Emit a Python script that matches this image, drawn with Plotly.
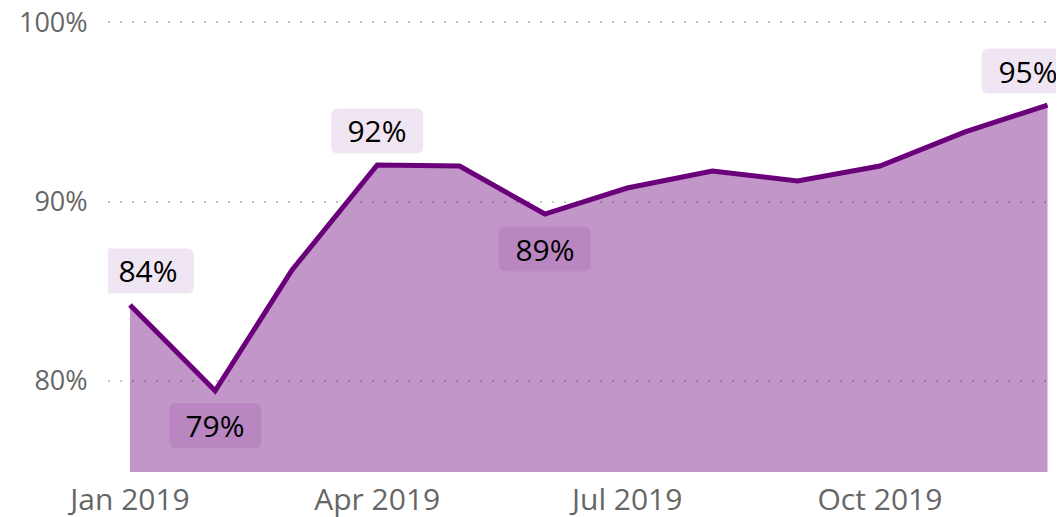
import plotly.graph_objects as go

# ---- data ----
months = ["2019-01-01", "2019-02-01", "2019-03-01", "2019-04-01", "2019-05-01", "2019-06-01",
          "2019-07-01", "2019-08-01", "2019-09-01", "2019-10-01", "2019-11-01", "2019-12-01"]
values = [84.24, 79.45, 86.19, 92.05, 91.99, 89.31, 90.76, 91.71, 91.15, 91.99, 93.89, 95.39]

# which points get a data label, and on which side of the line
label_idx = [0, 1, 3, 5, 11]
label_side = ["above", "below", "above", "below", "above"]
label_xshift = [18, 0, 0, 0, -20]

y_ticks = [80, 90, 100]
y_ticktext = ["80%", "90%", "100%"]
x_range = ["2018-12-24", "2019-12-07"]
y_range = [74.92, 100.69]

LINE = "#6B007B"
FILL = "rgba(107,0,123,0.41)"
LABEL_BG = "rgba(112,0,128,0.10)"
FONT = "Open Sans"

BOX_W, BOX_H, RAD, OFF = 92, 45, 7, 34


def rounded_box(cx, cy, w, h, r):
    x0, x1 = cx - w / 2, cx + w / 2
    y0, y1 = cy - h / 2, cy + h / 2
    return (f"M{x0 + r},{y0} L{x1 - r},{y0} Q{x1},{y0} {x1},{y0 + r} "
            f"L{x1},{y1 - r} Q{x1},{y1} {x1 - r},{y1} L{x0 + r},{y1} "
            f"Q{x0},{y1} {x0},{y1 - r} L{x0},{y0 + r} Q{x0},{y0} {x0 + r},{y0} Z")


fig = go.Figure()
fig.add_trace(go.Scatter(
    x=months, y=values, mode="lines",
    line=dict(color=LINE, width=5),
    fill="tozeroy", fillcolor=FILL,
    hoverinfo="skip", showlegend=False,
))

for i, side, xs in zip(label_idx, label_side, label_xshift):
    ys = OFF if side == "above" else -OFF - 1
    fig.add_shape(
        type="path", xref="x", yref="y",
        xsizemode="pixel", ysizemode="pixel",
        xanchor=months[i], yanchor=values[i],
        path=rounded_box(xs, ys, BOX_W, BOX_H, RAD),
        fillcolor=LABEL_BG, line=dict(width=0), layer="above",
    )
    fig.add_annotation(
        x=months[i], y=values[i], xref="x", yref="y",
        text=f"{round(values[i])}%", showarrow=False,
        font=dict(family=FONT, size=30, color="#000000"),
        borderpad=0, borderwidth=0,
        width=BOX_W, height=BOX_H,
        xshift=xs, yshift=ys,
    )

# the page body has an 8px default margin, so the figure is sized/margined to compensate
fig.update_layout(
    width=1056, height=509,
    margin=dict(l=100, r=0, t=2, b=45, autoexpand=False),
    paper_bgcolor="white", plot_bgcolor="white",
    font=dict(family=FONT, size=30, color="#666666"),
    xaxis=dict(
        type="date", range=x_range, dtick="M3", tick0="2019-01-01",
        tickformat="%b %Y", showgrid=False, zeroline=False, showline=False,
        automargin=False,
        ticks="outside", ticklen=1, tickcolor="rgba(0,0,0,0)",
        tickfont=dict(family=FONT, size=30, color="#666666"),
    ),
    yaxis=dict(
        range=y_range, tickmode="array", tickvals=y_ticks, ticktext=y_ticktext,
        showgrid=True, gridcolor="#C4C4C4", gridwidth=1.5, griddash="2px,10px",
        zeroline=False, showline=False, ticklabeloverflow="allow",
        automargin=False,
        ticks="outside", ticklen=14, tickcolor="rgba(0,0,0,0)",
        tickfont=dict(family=FONT, size=27, color="#666666"),
    ),
)

fig.write_html("out.html")
